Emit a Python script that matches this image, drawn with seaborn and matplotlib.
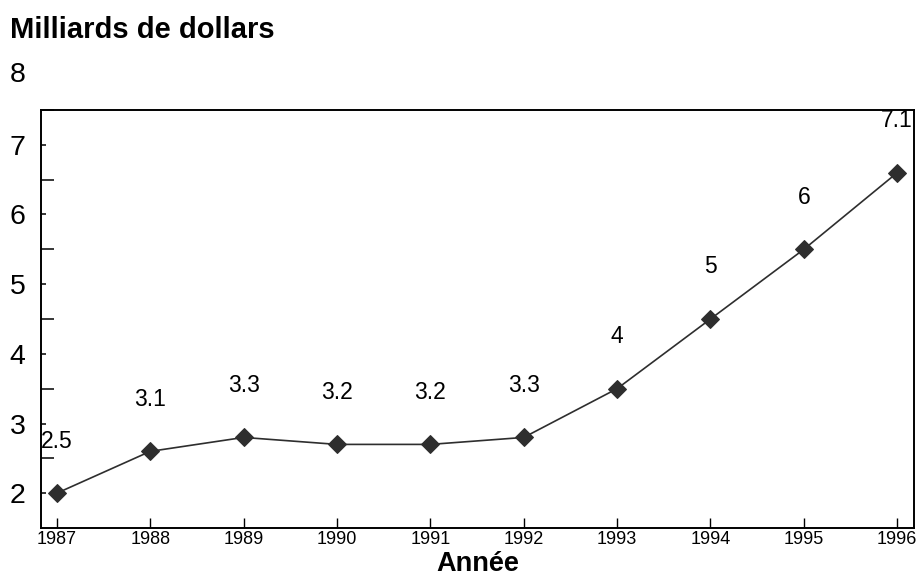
import matplotlib
matplotlib.use("Agg")
import matplotlib.pyplot as plt
import seaborn as sns
import pandas as pd

# Annual values, billions of dollars
years = [1987, 1988, 1989, 1990, 1991, 1992, 1993, 1994, 1995, 1996]
values = [2.5, 3.1, 3.3, 3.2, 3.2, 3.3, 4.0, 5.0, 6.0, 7.1]
value_labels = ["2.5", "3.1", "3.3", "3.2", "3.2", "3.3", "4", "5", "6", "7.1"]

# Y axis scale text, drawn half a unit below each long tick
y_tick_text = ["2", "3", "4", "5", "6", "7", "8"]
y_text_pos = [2.5, 3.5, 4.5, 5.5, 6.5, 7.5, 8.5]
y_long_ticks = [3, 4, 5, 6, 7, 8]

sns.set_theme(style="white")
plt.rcParams["font.family"] = ["Liberation Sans", "DejaVu Sans"]
plt.rcParams["text.color"] = "black"
plt.rcParams["axes.labelcolor"] = "black"
plt.rcParams["xtick.color"] = "black"
plt.rcParams["ytick.color"] = "black"

df = pd.DataFrame({"year": years, "value": values})

fig = plt.figure(figsize=(9.19, 5.78), dpi=100)
ax = fig.add_axes([0.0446, 0.0865, 0.95, 0.7232])

ink = "#2e2e2e"
sns.lineplot(data=df, x="year", y="value", ax=ax, color=ink, linewidth=1.2,
             marker="D", markersize=9.3, markeredgecolor=ink,
             markerfacecolor=ink)

ax.set_xlim(1986.83, 1996.18)
ax.set_ylim(2.0, 8.0)

for y, v, lab in zip(years, values, value_labels):
    ax.annotate(lab, xy=(y, v), xytext=(0, 52), textcoords="offset pixels",
                ha="center", va="center", fontsize=16.5, color="black",
                annotation_clip=False)

# Y axis: long unlabelled ticks, short labelled ticks in between
ax.set_yticks(y_long_ticks)
ax.set_yticklabels([])
ax.set_yticks(y_text_pos[:-1], labels=y_tick_text[:-1], minor=True)
ax.tick_params(axis="y", which="major", direction="in", length=9, width=1.1,
               color="black", left=True)
ax.tick_params(axis="y", which="minor", direction="in", length=3.5, width=1.1,
               color="black", left=True, labelsize=20.5, pad=11,
               labelcolor="black")
ax.annotate(y_tick_text[-1], xy=(0, y_text_pos[-1]),
            xycoords=ax.get_yaxis_transform(), xytext=(-11, 0),
            textcoords="offset points", ha="right", va="center",
            fontsize=20.5, color="black", annotation_clip=False)

ax.set_xticks(years)
ax.set_xticklabels([str(y) for y in years])
ax.tick_params(axis="x", direction="in", length=7.5, width=1.0,
               color="black", bottom=True, labelsize=13, pad=2,
               labelcolor="black")

for side in ["left", "bottom", "right", "top"]:
    ax.spines[side].set_visible(True)
    ax.spines[side].set_color("black")
    ax.spines[side].set_linewidth(1.4)

ax.set_xlabel("Année", fontsize=19.5, fontweight="bold", labelpad=2,
              color="black")
ax.set_ylabel("")
ax.grid(False)

fig.text(10 / 919, 1 - 30 / 578, "Milliards de dollars", fontsize=21,
         fontweight="bold", ha="left", va="center", color="black")

fig.savefig("out.png", dpi=100, facecolor="white")
